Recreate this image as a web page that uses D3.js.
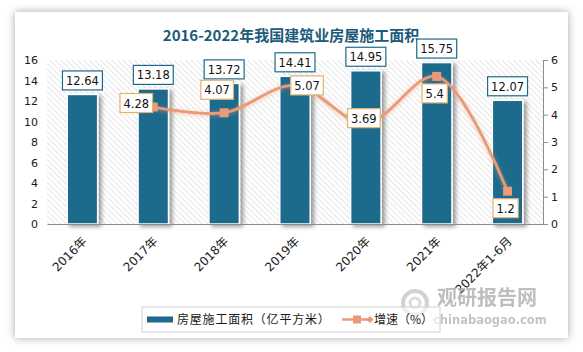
<!DOCTYPE html>
<html>
<head>
<meta charset="utf-8">
<script src="https://cdn.jsdelivr.net/npm/d3@7"></script>
<style>
  html, body { margin: 0; padding: 0; background: #fff; }
  svg { display: block; }
</style>
</head>
<body>
<div id="chart"></div>
<script>
// data
const categories = ["2016年", "2017年", "2018年", "2019年", "2020年", "2021年", "2022年1-6月"];
const areaValues = [12.64, 13.18, 13.72, 14.41, 14.95, 15.75, 12.07];
const growthValues = [null, 4.28, 4.07, 5.07, 3.69, 5.4, 1.2];
const growthLabelPos = [null, "left", "above-left", "right", "center", "below", "below"];
const leftTicks = [0, 2, 4, 6, 8, 10, 12, 14, 16];
const rightTicks = [0, 1, 2, 3, 4, 5, 6];

const W = 583, H = 352;
const plot = { left: 47, right: 543, top: 60, bottom: 224 };
const barColor = "#1d6a8c";
const lineColor = "#e99a76";
const labelFont = "'DejaVu Sans', 'Noto Sans CJK SC', sans-serif";

const svg = d3.select("#chart").append("svg")
  .attr("width", W)
  .attr("height", H);

const defs = svg.append("defs");

// card shadow
const cardShadow = defs.append("filter").attr("id", "cardShadow")
  .attr("x", "-10%").attr("y", "-10%").attr("width", "120%").attr("height", "120%");
cardShadow.append("feDropShadow")
  .attr("dx", 0).attr("dy", 0).attr("stdDeviation", 4)
  .attr("flood-color", "#000").attr("flood-opacity", 0.35);

// bar shadow
const barShadow = defs.append("filter").attr("id", "barShadow")
  .attr("x", "-30%").attr("y", "-10%").attr("width", "160%").attr("height", "130%");
barShadow.append("feDropShadow")
  .attr("dx", 3).attr("dy", 2).attr("stdDeviation", 2)
  .attr("flood-color", "#000").attr("flood-opacity", 0.4);

// line glow
const lineGlow = defs.append("filter").attr("id", "lineGlow")
  .attr("x", "-10%").attr("y", "-20%").attr("width", "120%").attr("height", "140%");
lineGlow.append("feDropShadow")
  .attr("dx", 0).attr("dy", 1).attr("stdDeviation", 2)
  .attr("flood-color", lineColor).attr("flood-opacity", 0.6);

// hatch pattern
const hatch = defs.append("pattern").attr("id", "hatch")
  .attr("patternUnits", "userSpaceOnUse")
  .attr("width", 4).attr("height", 4)
  .attr("patternTransform", "rotate(-45)");
hatch.append("rect").attr("width", 4).attr("height", 4).attr("fill", "#fff");
hatch.append("line")
  .attr("x1", 0).attr("y1", 0).attr("x2", 0).attr("y2", 4)
  .attr("stroke", "#d6d6d6").attr("stroke-width", 1.2);

// card
svg.append("rect")
  .attr("x", 15).attr("y", 12)
  .attr("width", 553).attr("height", 326)
  .attr("fill", "#fff")
  .attr("filter", "url(#cardShadow)");

// title
svg.append("text")
  .attr("x", 291).attr("y", 41)
  .attr("text-anchor", "middle")
  .style("font-family", "'Noto Sans CJK SC', sans-serif")
  .style("font-size", "15px")
  .style("font-weight", "bold")
  .attr("fill", "#1a5a7a")
  .text("2016-2022年我国建筑业房屋施工面积");

// scales
const x = d3.scaleBand()
  .domain(categories)
  .range([plot.left, plot.right])
  .padding(0);

const yL = d3.scaleLinear().domain([0, 16]).range([plot.bottom, plot.top]);
const yR = d3.scaleLinear().domain([0, 6]).range([plot.bottom, plot.top]);

const cx = c => x(c) + x.bandwidth() / 2;
const barW = x.bandwidth() * 0.43;

// plot background
svg.append("rect")
  .attr("x", plot.left).attr("y", plot.top)
  .attr("width", plot.right - plot.left)
  .attr("height", plot.bottom - plot.top)
  .attr("fill", "url(#hatch)");

// left axis (labels only)
const leftAxis = svg.append("g")
  .attr("transform", `translate(${plot.left},0)`)
  .call(d3.axisLeft(yL).tickValues(leftTicks).tickFormat(d3.format("d")).tickSize(0).tickPadding(9));
leftAxis.select(".domain").remove();
leftAxis.selectAll("text")
  .style("font-family", labelFont)
  .style("font-size", "11px")
  .attr("fill", "#1a1a1a");

// right axis
const rightAxis = svg.append("g")
  .attr("transform", `translate(${plot.right},0)`)
  .call(d3.axisRight(yR).tickValues(rightTicks).tickFormat(d3.format("d"))
    .tickSize(5).tickSizeOuter(0).tickPadding(3));
rightAxis.select(".domain").attr("stroke", "#8c8c8c");
rightAxis.selectAll(".tick line").attr("stroke", "#8c8c8c");
rightAxis.selectAll("text")
  .style("font-family", labelFont)
  .style("font-size", "11px")
  .attr("fill", "#1a1a1a");

// bars
svg.append("g")
  .selectAll("rect")
  .data(categories)
  .join("rect")
  .attr("x", c => cx(c) - barW / 2)
  .attr("y", (c, i) => yL(areaValues[i]))
  .attr("width", barW)
  .attr("height", (c, i) => plot.bottom - yL(areaValues[i]))
  .attr("fill", barColor)
  .attr("stroke", "#fff")
  .attr("stroke-width", 1.5)
  .attr("filter", "url(#barShadow)");

// bottom axis
const bottomAxis = svg.append("g")
  .attr("transform", `translate(0,${plot.bottom})`)
  .call(d3.axisBottom(x).tickSize(0).tickSizeOuter(0));
bottomAxis.select(".domain").attr("stroke", "#8c8c8c");
bottomAxis.selectAll("text")
  .style("font-family", labelFont)
  .style("font-size", "12px")
  .attr("fill", "#1a1a1a")
  .attr("text-anchor", "end")
  .attr("dy", 0)
  .attr("transform", "translate(3,16) rotate(-45)");

// label box helper
function labelBox(g, text, cxPos, cyPos, border) {
  const grp = g.append("g");
  const rect = grp.append("rect");
  const t = grp.append("text")
    .attr("x", cxPos).attr("y", cyPos + 4.5)
    .attr("text-anchor", "middle")
    .style("font-family", labelFont)
    .style("font-size", "11.5px")
    .attr("fill", "#111")
    .text(text);
  const tw = t.node().getComputedTextLength();
  const bw = tw + 7, bh = 19;
  rect.attr("x", cxPos - bw / 2).attr("y", cyPos - bh / 2)
    .attr("width", bw).attr("height", bh)
    .attr("fill", "#fff")
    .attr("stroke", border)
    .attr("stroke-width", 1.2);
}

// growth line
const lineData = categories
  .map((c, i) => ({ c, v: growthValues[i], pos: growthLabelPos[i] }))
  .filter(d => d.v != null);

const line = d3.line()
  .x(d => cx(d.c))
  .y(d => yR(d.v))
  .curve(d3.curveCatmullRom.alpha(0.5));

svg.append("path")
  .datum(lineData)
  .attr("d", line)
  .attr("fill", "none")
  .attr("stroke", lineColor)
  .attr("stroke-width", 2.8)
  .attr("filter", "url(#lineGlow)");

svg.append("g")
  .selectAll("rect")
  .data(lineData)
  .join("rect")
  .attr("x", d => cx(d.c) - 4.5)
  .attr("y", d => yR(d.v) - 4.5)
  .attr("width", 9)
  .attr("height", 9)
  .attr("fill", lineColor);

// bar value labels
const labels = svg.append("g");
categories.forEach((c, i) => {
  labelBox(labels, areaValues[i].toString(), cx(c), yL(areaValues[i]) - 14, barColor);
});

// growth labels
const offsets = {
  "left": [-17, -4],
  "above-left": [-7, -23],
  "right": [12, 0],
  "center": [-2, -5],
  "below": [-2, 17]
};
lineData.forEach(d => {
  const o = offsets[d.pos];
  labelBox(labels, d.v.toString(), cx(d.c) + o[0], yR(d.v) + o[1], "#e3b26e");
});

// watermark
const wm = svg.append("g").attr("opacity", 0.75);
wm.append("circle")
  .attr("cx", 415).attr("cy", 303).attr("r", 12)
  .attr("fill", "none").attr("stroke", "#c4c4c4").attr("stroke-width", 4);
wm.append("circle")
  .attr("cx", 415).attr("cy", 303).attr("r", 5)
  .attr("fill", "none").attr("stroke", "#d0d0d0").attr("stroke-width", 3);
wm.append("text")
  .attr("x", 437).attr("y", 305)
  .style("font-family", "'Noto Sans CJK SC', sans-serif")
  .style("font-size", "20px")
  .style("font-weight", "bold")
  .attr("fill", "#a9a9a9")
  .text("观研报告网");
wm.append("text")
  .attr("x", 433).attr("y", 324)
  .style("font-family", "'DejaVu Sans', sans-serif")
  .style("font-size", "11.5px")
  .style("font-weight", "bold")
  .attr("fill", "#b0b0b0")
  .text("chinabaogao.com");

// legend
const legend = svg.append("g");
legend.append("rect")
  .attr("x", 142).attr("y", 307)
  .attr("width", 298).attr("height", 25)
  .attr("fill", "#fff")
  .attr("fill-opacity", 0.6)
  .attr("stroke", "#cfcfcf");
legend.append("rect")
  .attr("x", 147).attr("y", 316.5)
  .attr("width", 26).attr("height", 6)
  .attr("fill", barColor);
legend.append("text")
  .attr("x", 177).attr("y", 324)
  .style("font-family", "'Noto Sans CJK SC', sans-serif")
  .style("font-size", "12px")
  .style("letter-spacing", "0.8px")
  .attr("fill", "#1a1a1a")
  .text("房屋施工面积（亿平方米）");
legend.append("line")
  .attr("x1", 342).attr("x2", 370)
  .attr("y1", 319.5).attr("y2", 319.5)
  .attr("stroke", lineColor).attr("stroke-width", 2.5);
legend.append("rect")
  .attr("x", 353).attr("y", 315.5)
  .attr("width", 8).attr("height", 8)
  .attr("fill", lineColor);
legend.append("path")
  .attr("d", "M370,316 L373.5,319.5 L370,323 L366.5,319.5 Z")
  .attr("fill", lineColor);
legend.append("text")
  .attr("x", 374).attr("y", 324)
  .style("font-family", "'Noto Sans CJK SC', sans-serif")
  .style("font-size", "12px")
  .attr("fill", "#1a1a1a")
  .text("增速（%）");
</script>
</body>
</html>
